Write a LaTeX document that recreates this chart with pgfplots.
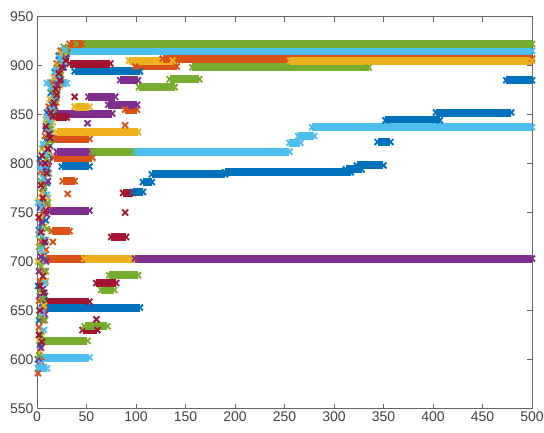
\documentclass[border=0pt]{standalone}
\usepackage{fontspec}
\setmainfont{Liberation Sans}
\usepackage{pgfplots}
\pgfplotsset{compat=1.18}
\definecolor{mblue}{RGB}{0,114,189}
\definecolor{morange}{RGB}{217,83,25}
\definecolor{myellow}{RGB}{237,177,32}
\definecolor{mpurple}{RGB}{126,47,142}
\definecolor{mgreen}{RGB}{119,172,48}
\definecolor{mlblue}{RGB}{77,190,238}
\definecolor{mdred}{RGB}{162,20,47}
\pgfplotsset{
  band/.style={line width=8pt, mark=x, mark size=4.2pt, mark options={line width=1.9pt, solid}},
  pt/.style={only marks, mark=x, mark size=4.2pt, mark options={line width=1.9pt}},
}
\newcommand{\seg}[4]{\addplot[#1,band] coordinates {(#2,#4) (#3,#4)};}
\begin{document}
\begin{tikzpicture}
\begin{axis}[
  width=495pt, height=392pt, scale only axis,
  xmin=0, xmax=500, ymin=550, ymax=950,
  xtick={0,50,...,500}, ytick={550,600,...,950},
  tick pos=both, ticklabel pos=left,
  xticklabel pos=bottom,
  tick align=inside,
  major tick length=5pt,
  axis line style={black!60, line width=0.6pt},
  tick style={black!60, line width=0.6pt},
  ticklabel style={font=\fontsize{14}{16}\selectfont, text=black!75},
  /pgf/number format/assume math mode=true,
  /pgf/number format/1000 sep={},
  clip=false,
]
% lower region
\seg{mlblue}{1}{10}{591}
\seg{mlblue}{5}{53}{602}
\seg{mgreen}{5}{51}{619}
\seg{mdred}{46}{61}{630}
\seg{mgreen}{48}{71}{634}
\addplot[mdred,pt] coordinates {(60,641)};
\seg{mdred}{6}{53}{659}
\seg{mblue}{6}{104}{653}
\seg{mgreen}{65}{78}{671}
\seg{mdred}{60}{80}{678}
\seg{mgreen}{73}{102}{686}
\seg{morange}{8}{48}{703}
\seg{myellow}{48}{99}{703}
\seg{mpurple}{99}{500}{703}
\addplot[morange,pt] coordinates {(16,720)};
\seg{mdred}{75}{90}{725}
\seg{morange}{15}{33}{731}
\addplot[mdred,pt] coordinates {(89,750)};
\seg{mpurple}{13}{53}{752}
\addplot[morange,pt] coordinates {(31,769)};
\seg{mdred}{87}{97}{770}
\seg{mblue}{97}{107}{771}
\seg{mblue}{107}{116}{781}
\seg{mblue}{116}{190}{789}
\seg{mblue}{190}{317}{791}
\seg{mblue}{312}{328}{794}
\seg{mblue}{323}{350}{798}
\seg{mblue}{344}{357}{822}
\seg{mblue}{352}{407}{844}
\seg{mblue}{403}{479}{852}
\seg{mblue}{474}{500}{885}
\seg{morange}{26}{38}{782}
\seg{morange}{17}{56}{806}
\seg{mblue}{25}{53}{797}
\seg{mpurple}{20}{56}{812}
\seg{mgreen}{56}{100}{812}
\seg{mlblue}{100}{255}{812}
\seg{mlblue}{255}{266}{821}
\seg{mlblue}{264}{280}{828}
\seg{mlblue}{278}{500}{837}
\seg{morange}{13}{53}{825}
\seg{myellow}{20}{102}{832}
\addplot[mpurple,pt] coordinates {(51,841)};
\addplot[morange,pt] coordinates {(89,839)};
\seg{mpurple}{15}{76}{851}
\seg{mdred}{18}{30}{847}
\seg{morange}{89}{101}{855}
\seg{myellow}{38}{53}{858}
\seg{mpurple}{72}{101}{860}
\seg{mpurple}{52}{79}{868}
\addplot[mdred,pt] coordinates {(38,868)};
\seg{mlblue}{10}{30}{882}
\seg{mpurple}{84}{102}{885}
\seg{mgreen}{103}{139}{878}
\seg{mgreen}{134}{164}{886}
\seg{mblue}{38}{104}{894}
\seg{mgreen}{157}{335}{898}
\seg{morange}{99}{141}{899}
\seg{mdred}{33}{74}{902}
\seg{myellow}{93}{137}{905}
\seg{morange}{127}{500}{907}
\seg{myellow}{256}{500}{905}
\seg{mlblue}{26}{500}{915}
\seg{mgreen}{40}{500}{922}
\seg{morange}{33}{45}{922}
% early-iteration cluster
\addplot[mblue,pt] coordinates {(1,600)(3,615)(2,640)(5,657)(1,675)(3,700)(6,715)(2,732)(5,738)(4,760)(7,772)(6,790)(3,805)(8,812)(9,824)(12,840)(10,852)(15,860)(14,872)(20,880)(18,893)(25,905)(22,910)(30,912)(27,898)
 (8,665)(9,742)(10,780)(11,795)(7,706)(13,818)(16,848)(19,866)(23,884)(12,808)};
\addplot[morange,pt] coordinates {(1,586)(4,598)(2,633)(6,640)(2,660)(3,680)(7,690)(4,720)(2,745)(6,750)(5,765)(7,780)(4,792)(10,820)(8,828)(14,845)(12,858)(18,870)(16,882)(22,890)(20,902)(27,908)(24,915)(31,918)
 (9,712)(10,758)(11,800)(13,834)(7,652)(17,856)(21,878)};
\addplot[myellow,pt] coordinates {(3,608)(2,620)(5,628)(1,700)(3,690)(6,708)(3,715)(4,745)(2,762)(5,770)(8,785)(7,800)(5,815)(11,830)(9,845)(15,855)(13,866)(19,875)(17,888)(24,895)(21,900)(28,910)(25,912)
 (8,736)(9,680)(11,765)(12,812)(14,826)(16,842)(20,862)(23,880)(7,655)};
\addplot[mpurple,pt] coordinates {(2,600)(4,612)(3,665)(6,672)(2,690)(4,705)(7,722)(5,740)(3,755)(6,775)(8,795)(4,800)(11,815)(9,835)(16,850)(13,855)(21,880)(19,868)(26,900)(23,892)(29,908)
 (9,700)(10,748)(11,782)(8,646)(12,802)(14,826)(18,858)(24,886)};
\addplot[mgreen,pt] coordinates {(2,604)(4,625)(3,645)(6,662)(3,670)(4,695)(2,715)(5,725)(2,728)(7,775)(4,782)(10,805)(7,818)(14,835)(11,840)(18,865)(15,876)(24,890)(21,898)(30,915)(27,919)
 (9,690)(10,733)(11,760)(12,790)(13,823)(16,852)(20,872)(25,906)(8,640)};
\addplot[mlblue,pt] coordinates {(2,592)(4,596)(2,650)(5,648)(4,712)(3,728)(3,730)(5,755)(1,760)(6,785)(3,795)(9,810)(6,820)(13,842)(10,848)(17,866)(14,878)(22,886)(19,895)(26,904)(23,908)(28,916)(8,798)
 (8,678)(9,722)(10,768)(12,832)(15,855)(20,890)(7,630)(11,790)};
\addplot[mdred,pt] coordinates {(2,625)(5,618)(3,650)(3,675)(6,685)(4,730)(2,745)(6,765)(4,778)(8,800)(5,808)(12,830)(9,838)(16,848)(14,852)(20,870)(17,862)(25,898)(23,885)(29,905)
 (8,720)(9,752)(10,790)(7,668)(11,815)(13,826)(19,876)(22,892)};
\end{axis}
\pgfresetboundingbox
\path (current axis.south west) ++(-37pt,-23.5pt) rectangle ++(544pt,432pt);
\end{tikzpicture}
\end{document}
